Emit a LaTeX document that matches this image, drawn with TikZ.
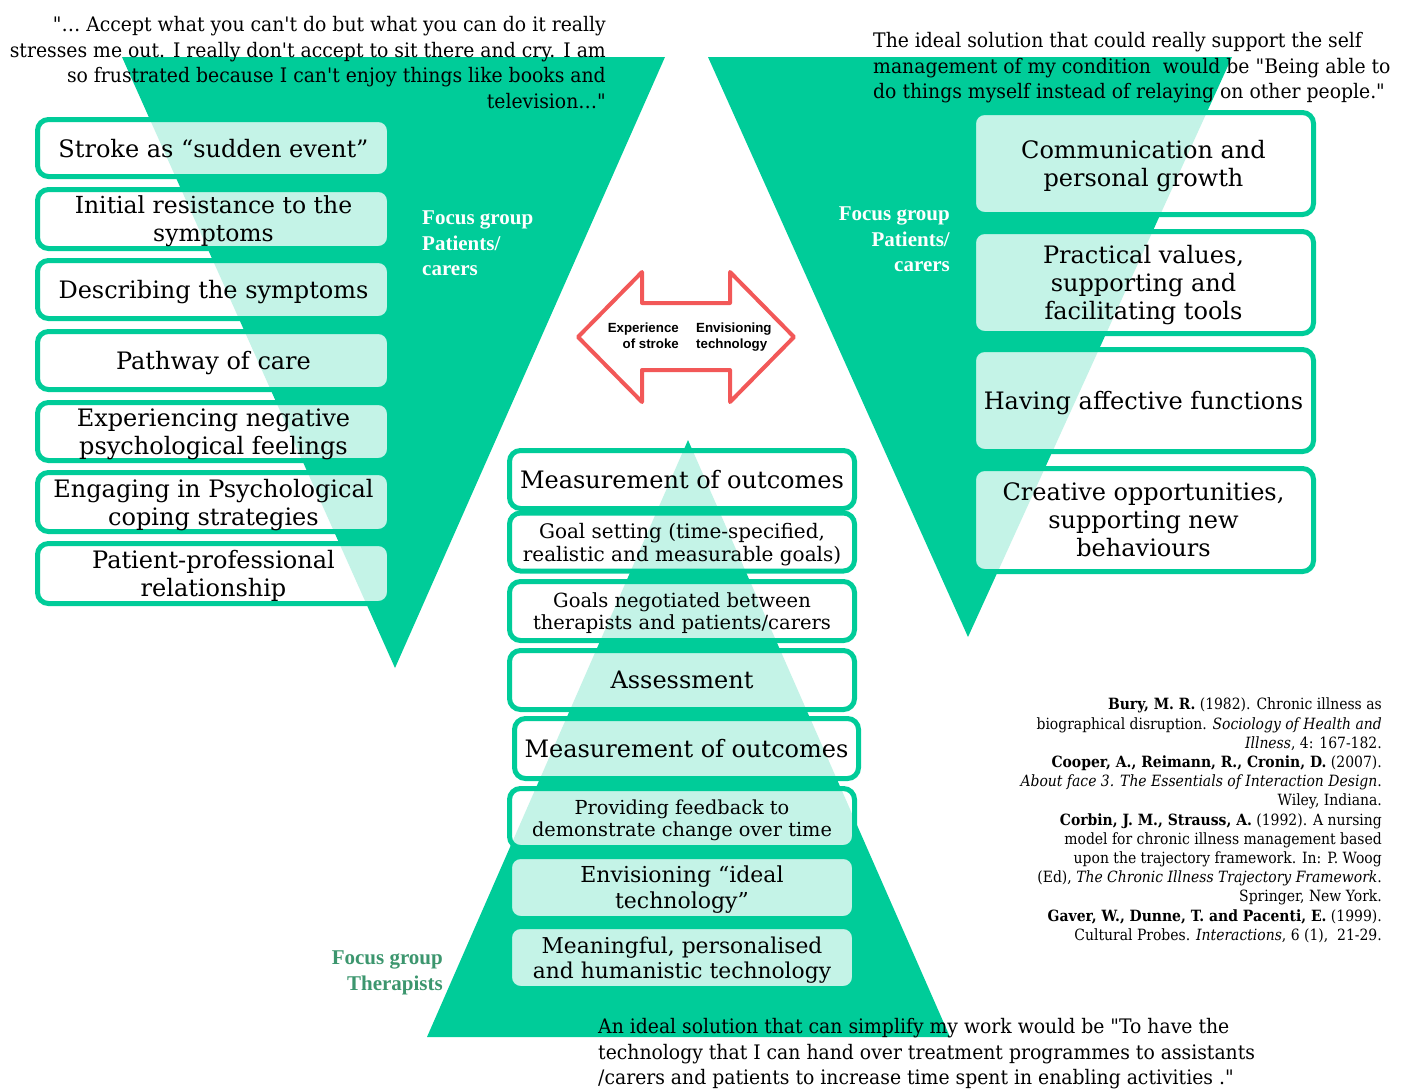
\documentclass[tikz,border=0pt]{standalone}
\usepackage{fontspec}
\setmainfont{DejaVu Serif}[Ligatures=TeXOff]
\newfontfamily\qfont{DejaVu Serif}[Ligatures=TeXOff,FakeStretch=0.94]
\newfontfamily\rfont{DejaVu Serif}[Ligatures=TeXOff,FakeStretch=0.9]
\newfontfamily\tfont{Liberation Serif}[Ligatures=TeXOff]
\newfontfamily\afont{Liberation Sans}[Ligatures=TeXOff]
\definecolor{tgreen}{RGB}{0,204,153}
\definecolor{dgreen}{RGB}{60,150,110}
\definecolor{ared}{RGB}{242,88,88}
\tikzset{
  box/.style={draw=tgreen, line width=5pt, rounded corners=11pt, fill=white,
    fill opacity=0.77, text opacity=1, align=center, inner sep=0pt, text depth=0pt,
    font=\fontsize{24}{28}\selectfont},
  smallbox/.style={box, font=\fontsize{20}{23}\selectfont},
  midbox/.style={box, font=\fontsize{22}{26}\selectfont},
  qtext/.style={font=\qfont\fontsize{20}{25.6}\selectfont, inner sep=0pt},
  reftext/.style={font=\rfont\fontsize{15.5}{19.2}\selectfont, inner sep=0pt, align=right},
  flabel/.style={font=\tfont\bfseries\fontsize{21}{25.5}\selectfont, inner sep=0pt},
  atext/.style={font=\afont\bfseries\fontsize{13.3}{16}\selectfont, inner sep=0pt},
}
\begin{document}
\begin{tikzpicture}[x=1pt,y=-1pt]
\useasboundingbox (0,0) rectangle (1407,1088);
% triangles
\fill[tgreen] (122,57) -- (665,57) -- (395,668) -- cycle;
\fill[tgreen] (708,57) -- (1232,57) -- (968,637) -- cycle;
\fill[tgreen] (688,440) -- (950,1037) -- (427,1037) -- cycle;

% quotes
\node[qtext, anchor=north east, align=right] (q1) at (606,16)
 {"… Accept what you can't do but what you can do it really\\
  stresses me out. I really don't accept to sit there and cry. I am\\
  so frustrated because I can't enjoy things like books and\\
  television…"};
\node[qtext, anchor=north west, align=left] (q2) at (873,32)
 {The ideal solution that could really support the self\\
  management of my condition\ \ would be "Being able to\\
  do things myself instead of relaying on other people."};
\node[qtext, anchor=north west, align=left] (q3) at (598,1018)
 {An ideal solution that can simplify my work would be "To have the\\
  technology that I can hand over treatment programmes to assistants\\
  /carers and patients to increase time spent in enabling activities ."};

% left boxes
\node[box, minimum width=352, minimum height=57] (l1) at (213.5,148) {Stroke as “sudden event”};
\node[box, minimum width=352, minimum height=59, font=\fontsize{23.5}{28}\selectfont] (l2) at (213.5,219) {Initial resistance to the\\symptoms};
\node[box, minimum width=352, minimum height=58] (l3) at (213.5,289.5) {Describing the symptoms};
\node[box, minimum width=352, minimum height=58] (l4) at (213.5,360.5) {Pathway of care};
\node[box, minimum width=352, minimum height=58] (l5) at (213.5,431.5) {Experiencing negative\\psychological feelings};
\node[box, minimum width=352, minimum height=59] (l6) at (213.5,502) {Engaging in Psychological\\coping strategies};
\node[box, minimum width=352, minimum height=60] (l7) at (213.5,573.5) {Patient-professional\\relationship};

% right boxes
\node[box, minimum width=340, minimum height=102] (r1) at (1143.5,163.5) {Communication and\\personal growth};
\node[box, minimum width=340, minimum height=102] (r2) at (1143.5,282.5) {Practical values,\\supporting and\\facilitating tools};
\node[box, minimum width=340, minimum height=102] (r3) at (1143.5,400.5) {Having affective functions};
\node[box, minimum width=340, minimum height=103] (r4) at (1143.5,520) {Creative opportunities,\\supporting new\\behaviours};

% centre boxes
\node[box, minimum width=345, minimum height=58] (c1) at (682,479.5) {Measurement of outcomes};
\node[smallbox, minimum width=345, minimum height=58] (c2) at (682,542) {Goal setting (time-specified,\\realistic and measurable goals)};
\node[smallbox, minimum width=345, minimum height=59, font=\fontsize{19.5}{22}\selectfont] (c3) at (682,611) {Goals negotiated between\\therapists and patients/carers};
\node[box, minimum width=345, minimum height=59] (c4) at (682,680) {Assessment};
\node[box, minimum width=344, minimum height=60] (c5) at (686.5,748.5) {Measurement of outcomes};
\node[smallbox, minimum width=345, minimum height=59, font=\fontsize{19.3}{22}\selectfont] (c6) at (682,818) {Providing feedback to\\demonstrate change over time};
\node[midbox, minimum width=345, minimum height=62] (c7) at (682,887.5) {Envisioning “ideal\\technology”};
\node[midbox, minimum width=345, minimum height=62, font=\fontsize{21.8}{25}\selectfont] (c8) at (682,957.5) {Meaningful, personalised\\and humanistic technology};

% focus group labels
\node[flabel, text=white, anchor=north west, align=left] (f1) at (422,211) {Focus group\\Patients/\\carers};
\node[flabel, text=white, anchor=north east, align=right] (f2) at (950,207) {Focus group\\Patients/\\carers};
\node[flabel, text=dgreen, anchor=north east, align=right] (f3) at (443,951) {Focus group\\Therapists};

% double arrow
\draw[ared, line width=4pt, line join=round, fill=white]
  (578,337) -- (642,272) -- (642,303) -- (730,303) -- (730,272) -- (794,337)
  -- (730,402) -- (730,370) -- (642,370) -- (642,402) -- cycle;
\node[atext, anchor=north east, align=right] (a1) at (679,323) {Experience\\of stroke};
\node[atext, anchor=north west, align=left] (a2) at (696,323) {Envisioning\\technology};

% references
\node[reftext, anchor=north east] (refs) at (1382,698)
 {{\bfseries Bury, M. R.} (1982). Chronic illness as\\
  biographical disruption. \textit{Sociology of Health and}\\
  \textit{Illness}, 4: 167-182.\\
  {\bfseries Cooper, A., Reimann, R., Cronin, D.} (2007).\\
  \textit{About face 3. The Essentials of Interaction Design}.\\
  Wiley, Indiana.\\
  {\bfseries Corbin, J. M., Strauss, A.} (1992). A nursing\\
  model for chronic illness management based\\
  upon the trajectory framework. In: P. Woog\\
  (Ed), \textit{The Chronic Illness Trajectory Framework}.\\
  Springer, New York.\\
  {\bfseries Gaver, W., Dunne, T. and Pacenti, E.} (1999).\\
  Cultural Probes. \textit{Interactions}, 6 (1),~ 21-29.};
\end{tikzpicture}
\end{document}
